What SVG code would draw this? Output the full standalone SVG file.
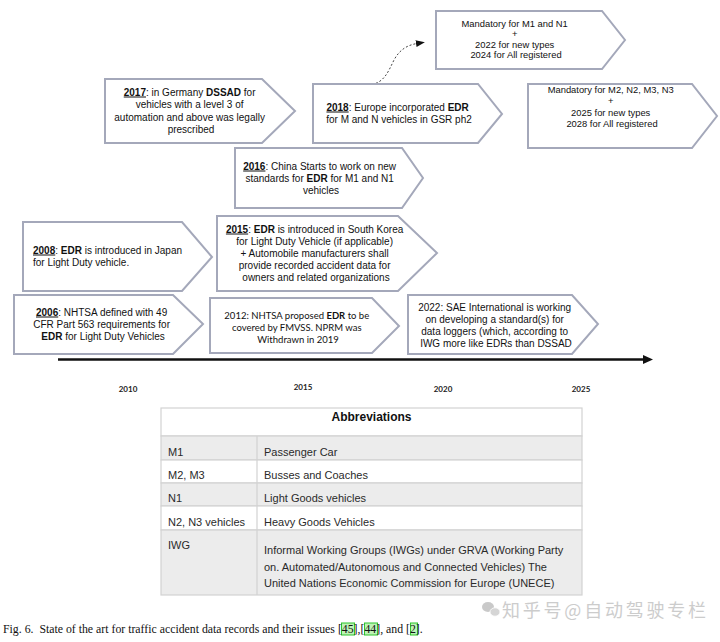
<svg xmlns="http://www.w3.org/2000/svg" width="720" height="642" viewBox="0 0 720 642">
<style>
  .box { fill: #ffffff; stroke: #a4a8ba; stroke-width: 2; stroke-linejoin: miter; }
  .t { font-family: "Liberation Sans", Arial, sans-serif; font-size: 10px; fill: #111; }
  .tc { font-family: Lato, "Liberation Sans", sans-serif; font-size: 9.5px; fill: #111; }
  .t9 { font-family: "Liberation Sans", Arial, sans-serif; font-size: 9.4px; fill: #111; }
  .b { font-weight: bold; }
  .u { font-weight: bold; text-decoration: underline; }
  .yr { font-family: Lato, "Liberation Sans", sans-serif; font-size: 8px; font-weight: bold; fill: #222; text-anchor: middle; }
  .th { font-family: "Liberation Sans", Arial, sans-serif; font-size: 12px; font-weight: bold; fill: #111; text-anchor: middle; }
  .td { font-family: "Liberation Sans", Arial, sans-serif; font-size: 11px; fill: #2a2a2a; }
  .cell { stroke: #d2d2d2; stroke-width: 1.2; }
  .g { fill: #ececec; }
  .w { fill: #ffffff; }
  .cap { font-family: "Liberation Serif", "Times New Roman", serif; font-size: 11.8px; fill: #111; }
  .ref { fill: #bdf2b5; stroke: #2fc42f; stroke-width: 1; }
</style>
<defs>
  <marker id="head" markerWidth="10" markerHeight="8" refX="1" refY="3.5" orient="auto" markerUnits="userSpaceOnUse">
    <path d="M0,0 L9,3.5 L0,7 z" fill="#111"/>
  </marker>
</defs>

<rect x="0" y="0" width="720" height="642" fill="#ffffff"/>

<g id="connectors">
  <line x1="58" y1="359.5" x2="645" y2="359.5" stroke="#111" stroke-width="2.5"/>
  <polygon points="643,355 653,359.5 643,364" fill="#111"/>
  <path d="M368,85 C384,84 388,72 394,60 C400,49 408,45 417,43.5" fill="none" stroke="#444" stroke-width="1" stroke-dasharray="2,2" marker-end="url(#head)"/>
</g>

<g id="node-2017">
  <polygon class="box" points="105,79 262,79 295,111 262,143 105,143"/>
  <text class="t" text-anchor="middle">
    <tspan x="191" y="95.5"><tspan class="u">2017</tspan>: in Germany <tspan class="b">DSSAD</tspan> for</tspan>
    <tspan x="191" y="108">vehicles with a level 3 of</tspan>
    <tspan x="191" y="120.5">automation and above was legally</tspan>
    <tspan x="191" y="133">prescribed</tspan>
  </text>
</g>

<g id="node-2018">
  <polygon class="box" points="313,84 478,84 502,114 478,143 313,143"/>
  <text class="t" text-anchor="middle">
    <tspan x="399" y="110.5"><tspan class="u">2018</tspan>: Europe incorporated <tspan class="b">EDR</tspan></tspan>
    <tspan x="399" y="122.5">for M and N vehicles in GSR ph2</tspan>
  </text>
</g>

<g id="node-m1n1">
  <polygon class="box" points="436,11 602,11 625,40 602,69 436,69"/>
  <text class="t9" text-anchor="middle">
    <tspan x="516" y="27">Mandatory for M1 and N1</tspan>
    <tspan x="516" y="37">+</tspan>
    <tspan x="516" y="47.5">2022 for new types</tspan>
    <tspan x="516" y="57.5">2024 for All registered</tspan>
  </text>
</g>

<g id="node-m2n2">
  <polygon class="box" points="528,84 692,84 717,116 692,148 528,148"/>
  <text class="t9" text-anchor="middle">
    <tspan x="612" y="92.5">Mandatory for M2, N2, M3, N3</tspan>
    <tspan x="612" y="104">+</tspan>
    <tspan x="612" y="115.5">2025 for new types</tspan>
    <tspan x="612" y="127">2028 for All registered</tspan>
  </text>
</g>

<g id="node-2016">
  <polygon class="box" points="235,148 402,148 423,178 402,208 235,208"/>
  <text class="t" text-anchor="middle">
    <tspan x="321" y="169.5"><tspan class="u">2016</tspan>: China Starts to work on new</tspan>
    <tspan x="321" y="181.5">standards for <tspan class="b">EDR</tspan> for M1 and N1</tspan>
    <tspan x="321" y="194">vehicles</tspan>
  </text>
</g>

<g id="node-2008">
  <polygon class="box" points="23,222 182,222 212,257 182,291 23,291"/>
  <text class="t">
    <tspan x="33" y="253.5"><tspan class="u">2008</tspan>: <tspan class="b">EDR</tspan> is introduced in Japan</tspan>
    <tspan x="33" y="265.5">for Light Duty vehicle.</tspan>
  </text>
</g>

<g id="node-2015">
  <polygon class="box" points="217,216 398,216 437,253 398,291 217,291"/>
  <text class="t" text-anchor="middle">
    <tspan x="316" y="232.5"><tspan class="u">2015</tspan>: <tspan class="b">EDR</tspan> is introduced in South Korea</tspan>
    <tspan x="316" y="244.5">for Light Duty Vehicle (if applicable)</tspan>
    <tspan x="316" y="256.5">+ Automobile manufacturers shall</tspan>
    <tspan x="316" y="268.5">provide recorded accident data for</tspan>
    <tspan x="316" y="280.5">owners and related organizations</tspan>
  </text>
</g>

<g id="node-2006">
  <polygon class="box" points="14,295 173,295 203,324 173,354 14,354"/>
  <text class="t" text-anchor="middle">
    <tspan x="103" y="315.5"><tspan class="u">2006</tspan>: NHTSA defined with 49</tspan>
    <tspan x="103" y="327.5">CFR Part 563 requirements for</tspan>
    <tspan x="103" y="339.5"><tspan class="b">EDR</tspan> for Light Duty Vehicles</tspan>
  </text>
</g>

<g id="node-2012">
  <polygon class="box" points="210,298 372,298 399,326 372,353 210,353"/>
  <text class="tc" text-anchor="middle">
    <tspan x="298" y="318.5">2012: NHTSA proposed <tspan class="b">EDR</tspan> to be</tspan>
    <tspan x="298" y="330.5">covered by FMVSS. NPRM was</tspan>
    <tspan x="298" y="342.5">Withdrawn in 2019</tspan>
  </text>
</g>

<g id="node-2022">
  <polygon class="box" points="408,295 572,295 598,324 572,354 408,354"/>
  <text class="t" text-anchor="middle">
    <tspan x="496" y="310.5">2022: SAE International is working</tspan>
    <tspan x="496" y="322.5">on developing a standard(s) for</tspan>
    <tspan x="496" y="334.5">data loggers (which, according to</tspan>
    <tspan x="496" y="346.5">IWG more like EDRs than DSSAD</tspan>
  </text>
</g>

<g id="years">
  <text class="yr" x="128" y="391.5">2010</text>
  <text class="yr" x="303" y="390">2015</text>
  <text class="yr" x="443" y="391.5">2020</text>
  <text class="yr" x="581" y="391.5">2025</text>
</g>

<g id="abbreviations">
  <rect class="cell w" x="161" y="408" width="421" height="28"/>
  <rect class="cell g" x="161" y="436" width="421" height="24"/>
  <rect class="cell w" x="161" y="460" width="421" height="23"/>
  <rect class="cell g" x="161" y="483" width="421" height="23"/>
  <rect class="cell w" x="161" y="506" width="421" height="24"/>
  <rect class="cell g" x="161" y="530" width="421" height="65"/>
  <line x1="257" y1="436" x2="257" y2="595" stroke="#d2d2d2" stroke-width="1.2"/>
  <text class="th" x="371.5" y="421">Abbreviations</text>
  <text class="td" x="168" y="456">M1</text>
  <text class="td" x="264" y="456">Passenger Car</text>
  <text class="td" x="168" y="479">M2, M3</text>
  <text class="td" x="264" y="479">Busses and Coaches</text>
  <text class="td" x="168" y="502">N1</text>
  <text class="td" x="264" y="502">Light Goods vehicles</text>
  <text class="td" x="168" y="526">N2, N3 vehicles</text>
  <text class="td" x="264" y="526">Heavy Goods Vehicles</text>
  <text class="td" x="168" y="549">IWG</text>
  <text class="td">
    <tspan x="264" y="554">Informal Working Groups (IWGs) under GRVA (Working Party</tspan>
    <tspan x="264" y="571">on. Automated/Autonomous and Connected Vehicles) The</tspan>
    <tspan x="264" y="587">United Nations Economic Commission for Europe (UNECE)</tspan>
  </text>
</g>

<g id="watermark" opacity="0.75">
  <ellipse cx="488" cy="607" rx="6" ry="5" fill="#b8b8b8"/>
  <ellipse cx="495" cy="612" rx="5" ry="4.2" fill="#c8c8c8" stroke="#fff" stroke-width="0.8"/>
  <text x="502" y="617" font-family="'Noto Sans CJK SC', sans-serif" font-size="18" fill="#bcbcbc" textLength="204" lengthAdjust="spacing">知乎号@自动驾驶专栏</text>
</g>

<g id="caption">
  <rect class="ref" x="341.5" y="623" width="13" height="12"/>
  <rect class="ref" x="364.5" y="623" width="13" height="12"/>
  <rect class="ref" x="410.5" y="623" width="7" height="12"/>
  <text class="cap" x="3" y="633">Fig. 6.&#160; State of the art for traffic accident data records and their issues [45],[44], and [2].</text>
</g>
</svg>
